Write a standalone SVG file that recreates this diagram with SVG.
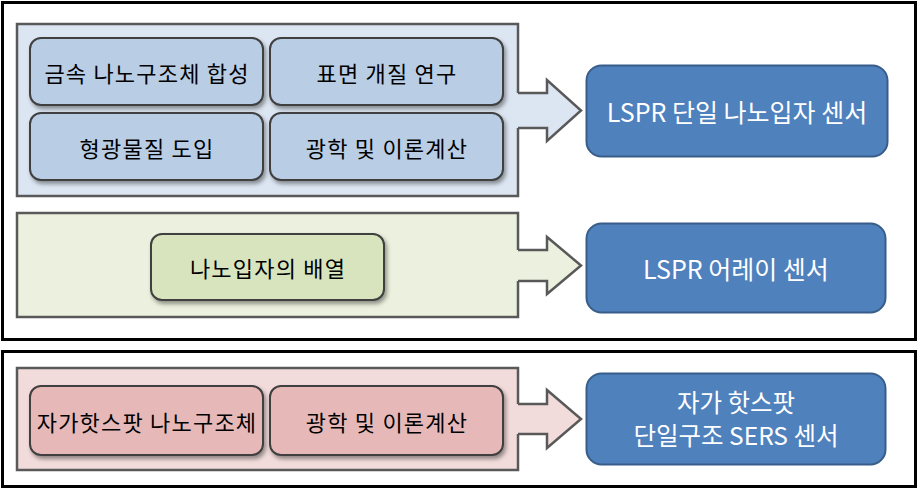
<svg xmlns="http://www.w3.org/2000/svg" width="920" height="489" viewBox="0 0 920 489">
<defs>
<filter id="sh" x="-10%" y="-10%" width="130%" height="140%">
<feDropShadow dx="2" dy="3" stdDeviation="2" flood-color="#000" flood-opacity="0.4"/>
</filter>
<style>
.frame{fill:#fff;stroke:#000;stroke-width:3}
.panel{stroke:#595959;stroke-width:2.5}
.arrowline{fill:none;stroke:#595959;stroke-width:2.5;stroke-linejoin:miter}
.box{stroke:#3f3f3f;stroke-width:2;filter:url(#sh)}
.blue{fill:#4f81bd;stroke:#385d8a;stroke-width:2}
.t{font-family:"Noto Sans CJK KR","Noto Sans",sans-serif;font-size:22px;letter-spacing:1.2px;fill:#000;text-anchor:middle;dominant-baseline:central}
.tw{font-family:"Noto Sans CJK KR","Noto Sans",sans-serif;font-size:25px;fill:#fff;text-anchor:middle;dominant-baseline:central}
.tw2{font-family:"Noto Sans CJK KR","Noto Sans",sans-serif;font-size:24.5px;fill:#fff;text-anchor:middle;dominant-baseline:central}
</style>
</defs>
<rect width="920" height="489" fill="#fff"/>
<g id="frame1"><rect class="frame" x="2.5" y="2.5" width="913" height="337"/></g>
<g id="frame2"><rect class="frame" x="2.5" y="351.5" width="913" height="135"/></g>

<g id="panel1"><rect class="panel" x="17" y="24" width="501" height="172" fill="#dce6f2"/></g>
<g id="panel2"><rect class="panel" x="17" y="213" width="501" height="104" fill="#ebf1de"/></g>
<g id="panel3"><rect class="panel" x="17" y="368" width="501" height="102" fill="#f2dcdb"/></g>

<g id="connectors">
<path d="M516,93 H547 V80 L581,110.5 L547,141 V128 H516 Z" fill="#dce6f2"/>
<path class="arrowline" d="M518,93 H547 V80 L581,110.5 L547,141 V128 H518"/>
<path d="M516,250 H547 V237 L581,265.5 L547,294 V281 H516 Z" fill="#ebf1de"/>
<path class="arrowline" d="M518,250 H547 V237 L581,265.5 L547,294 V281 H518"/>
<path d="M516,404 H547 V390 L581,419 L547,448 V434 H516 Z" fill="#f2dcdb"/>
<path class="arrowline" d="M518,404 H547 V390 L581,419 L547,448 V434 H518"/>
</g>

<g id="n-metal"><rect class="box" x="30" y="38" width="233" height="67" rx="11" fill="#b9cde5"/><text class="t" x="147" y="71.5">금속 나노구조체 합성</text></g>
<g id="n-surface"><rect class="box" x="270" y="38" width="233" height="67" rx="11" fill="#b9cde5"/><text class="t" x="387" y="71.5">표면 개질 연구</text></g>
<g id="n-fluor"><rect class="box" x="30" y="113" width="233" height="67" rx="11" fill="#b9cde5"/><text class="t" x="147" y="146.5">형광물질 도입</text></g>
<g id="n-optics1"><rect class="box" x="270" y="113" width="233" height="67" rx="11" fill="#b9cde5"/><text class="t" x="387" y="146.5">광학 및 이론계산</text></g>

<g id="n-array"><rect class="box" x="151" y="234" width="233" height="66" rx="11" fill="#d7e4bd"/><text class="t" x="268" y="267">나노입자의 배열</text></g>

<g id="n-hotspot"><rect class="box" x="30" y="386" width="233" height="69" rx="11" fill="#e6b9b8"/><text class="t" x="147" y="420.5">자가핫스팟 나노구조체</text></g>
<g id="n-optics2"><rect class="box" x="270" y="386" width="233" height="69" rx="11" fill="#e6b9b8"/><text class="t" x="387" y="420.5">광학 및 이론계산</text></g>

<g id="s-single"><rect class="blue" x="586.5" y="65.5" width="301" height="91" rx="15"/><text class="tw" x="737" y="111">LSPR 단일 나노입자 센서</text></g>
<g id="s-array"><rect class="blue" x="586.5" y="223.5" width="299" height="89" rx="15"/><text class="tw" x="736" y="268">LSPR 어레이 센서</text></g>
<g id="s-sers"><rect class="blue" x="586.5" y="373.5" width="299" height="91" rx="15"/><text class="tw2" x="736" y="401.5">자가 핫스팟</text><text class="tw2" x="736" y="434.5">단일구조 SERS 센서</text></g>
</svg>
